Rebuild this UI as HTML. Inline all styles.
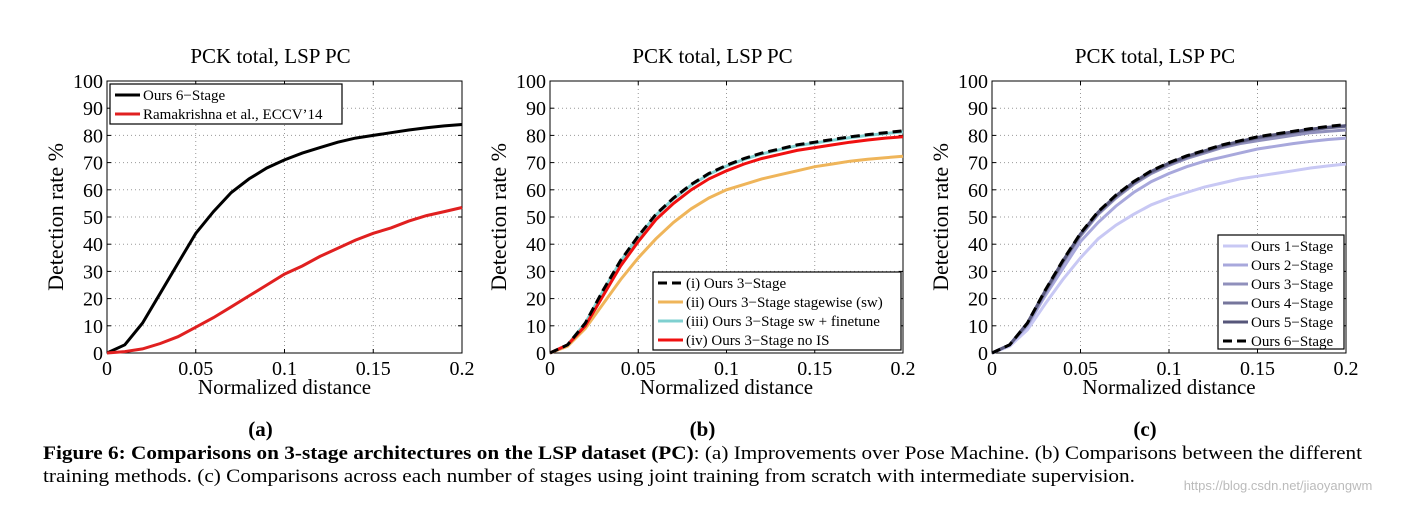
<!DOCTYPE html>
<html><head><meta charset="utf-8"><style>
body{margin:0;background:#fff;}
svg text{font-family:"Liberation Serif",serif;fill:#000;}
</style></head><body>
<svg id="fig" width="1411" height="505" xmlns="http://www.w3.org/2000/svg">
<text x="1278" y="490" font-size="13" style="fill:#bbb;font-family:'Liberation Sans',sans-serif" text-anchor="middle">https://blog.csdn.net/jiaoyangwm</text>
<text x="43" y="459" font-size="19" textLength="1319" lengthAdjust="spacingAndGlyphs"><tspan font-weight="bold">Figure 6: Comparisons on 3-stage architectures on the LSP dataset (PC)</tspan>: (a) Improvements over Pose Machine. (b) Comparisons between the different</text>
<text x="43" y="482" font-size="19" textLength="1092" lengthAdjust="spacingAndGlyphs">training methods. (c) Comparisons across each number of stages using joint training from scratch with intermediate supervision.</text>
</svg>
<script>
const xs=[0,0.01,0.02,0.03,0.04,0.05,0.06,0.07,0.08,0.09,0.1,0.11,0.12,0.13,0.14,0.15,0.16,0.17,0.18,0.19,0.2];
const xTicks=[0,0.05,0.1,0.15,0.2];
const xTickLabels=["0","0.05","0.1","0.15","0.2"];
const yTicks=[0,10,20,30,40,50,60,70,80,90,100];
const aOurs6=[0,3,11,22,33,44,52,59,64,68,71,73.5,75.5,77.5,79,80,81,82,82.8,83.5,84];
const aRama=[0,0.5,1.5,3.5,6,9.5,13,17,21,25,29,32,35.5,38.5,41.5,44,46,48.5,50.5,52,53.5];
const bI=[0,3,11,23,34,43,51,57,62,66,69,71.5,73.5,75,76.5,77.5,78.5,79.5,80.3,81,81.7];
const bII=[0,2.5,9,18,27,35,42,48,53,57,60,62,64,65.5,67,68.5,69.5,70.5,71.2,71.8,72.3];
const bIII=[0,3,11,22.7,33.7,42.7,50.7,56.7,61.7,65.7,68.7,71.2,73.2,74.7,76.2,77.2,78.2,79.2,80,80.7,81.3];
const bIV=[0,3,10,21,32,41,49,55,60,64,67,69.5,71.5,73,74.5,75.5,76.5,77.5,78.3,79,79.5];
const c1=[0,2.5,8.5,18,27,35,42,47,51,54.5,57,59,61,62.5,64,65,66,67,68,68.8,69.5];
const c2=[0,3,10,21,31,41,48,54,59,63,66,68.5,70.5,72,73.5,75,76,77,77.8,78.5,79];
const c3=[0,3,10.5,22,33,43,51,57,62,66,69,71.5,73.5,75.5,77,78,79,80,81,81.5,82];
const c4=[0,3,11,22.5,33.5,43.5,51.5,57.5,62.5,66.5,69.5,72,74,76,77.5,79,80,81,82,82.8,83.3];
const c5=[0,3,11,22.8,33.8,43.8,51.8,57.8,62.8,66.8,69.8,72.3,74.3,76.3,77.8,79.3,80.3,81.3,82.3,83,83.6];
const c6=[0,3,11,23,34,44,52,58,63,67,70,72.5,74.5,76.5,78,79.5,80.5,81.5,82.5,83.3,84];

const NS="http://www.w3.org/2000/svg";
const svg=document.getElementById('fig');
function mk(tag,attrs,parent){const e=document.createElementNS(NS,tag);for(const k in attrs)e.setAttribute(k,attrs[k]);(parent||svg).appendChild(e);return e;}
const Y0=353,Y1=81;
function panel(id,L,R,title,letter,series,legend){
  const g=mk('g',{});
  
  
  const sx=v=>L+(v-0)/(0.2)*(R-L);
  const sy=v=>Y0-v/100*(Y0-Y1);
  xTicks.forEach((t,i)=>{
    if(i>0&&i<xTicks.length-1){const l=mk('line',{x1:sx(t),x2:sx(t),y1:Y1,y2:Y0,stroke:'#999','stroke-width':1,'stroke-dasharray':'1,3'},g);
    
    }
    const tx=mk('text',{x:sx(t),y:Y0+22,'font-size':20,'text-anchor':'middle'},g);tx.textContent=xTickLabels[i];
    
    
    mk('line',{x1:sx(t),x2:sx(t),y1:Y0,y2:Y0-4,stroke:'#000'},g);
    mk('line',{x1:sx(t),x2:sx(t),y1:Y1,y2:Y1+4,stroke:'#000'},g);
  });
  yTicks.forEach(t=>{
    if(t>0&&t<100){const l=mk('line',{x1:L,x2:R,y1:sy(t),y2:sy(t),stroke:'#999','stroke-width':1,'stroke-dasharray':'1,3'},g);
    
    }
    const tx=mk('text',{x:L-4,y:sy(t)+7,'font-size':20,'text-anchor':'end'},g);tx.textContent=t;
    
    
    mk('line',{x1:L,x2:L+4,y1:sy(t),y2:sy(t),stroke:'#000'},g);
    mk('line',{x1:R,x2:R-4,y1:sy(t),y2:sy(t),stroke:'#000'},g);
  });
  const fr=mk('rect',{x:L,y:Y1,width:R-L,height:Y0-Y1,fill:'none',stroke:'#000','stroke-width':1},g);
  
  
  const tt=mk('text',{x:(L+R)/2-14,y:63,'font-size':21,'text-anchor':'middle'},g);tt.textContent=title;
  
  
  const xl=mk('text',{x:(L+R)/2,y:394,'font-size':21,'text-anchor':'middle'},g);xl.textContent='Normalized distance';
  
  
  const yl=mk('text',{x:0,y:0,'font-size':22,'text-anchor':'middle',transform:`translate(${L-44},${(Y0+Y1)/2}) rotate(-90)`},g);yl.textContent='Detection rate %';
  
  
  const lt=mk('text',{x:(L+R)/2-24,y:436,'font-size':21,'font-weight':'bold','text-anchor':'middle'},g);lt.textContent=letter;
  
  
  series.forEach(s=>{
    const d=s.data.map((v,i)=>(i?'L':'M')+sx(xs[i]).toFixed(1)+','+sy(v).toFixed(1)).join('');
    const p=mk('path',{d:d,fill:'none',stroke:s.color,'stroke-width':3,'stroke-dasharray':s.dash||'none'},g);
    
    
  });
  const lg=mk('g',{},g);
  
  
  mk('rect',{x:legend.x,y:legend.y,width:legend.w,height:legend.h,fill:'#fff',stroke:'#000','stroke-width':1.2},lg);
  legend.items.forEach((s,i)=>{
    const yy=legend.y+11+i*legend.step;
    mk('line',{x1:legend.x+5,x2:legend.x+5+legend.ll,y1:yy,y2:yy,stroke:s.color,'stroke-width':3,'stroke-dasharray':s.dash||'none'},lg);
    const t=mk('text',{x:legend.x+8+legend.ll,y:yy+5,'font-size':legend.fs},lg);t.textContent=s.label;
    
    
  });
}
const sa=[{key:'ours-6-stage',data:aOurs6,color:'#000',label:'Ours 6\u2212Stage'},{key:'ramakrishna',data:aRama,color:'#e02020',label:'Ramakrishna et al., ECCV\u201914'}];
panel('a',107,462,'PCK total, LSP PC','(a)',sa,{x:110,y:84,w:232,h:40,step:19,ll:25,fs:15,items:sa});
const sbItems=[{key:'i',data:bI,color:'#000',dash:'9,5',label:'(i) Ours 3\u2212Stage'},{key:'ii',data:bII,color:'#efb55a',label:'(ii) Ours 3\u2212Stage stagewise (sw)'},{key:'iii',data:bIII,color:'#7fd0d0',label:'(iii) Ours 3\u2212Stage sw + finetune'},{key:'iv',data:bIV,color:'#f01010',label:'(iv) Ours 3\u2212Stage no IS'}];
const sbDraw=[sbItems[1],sbItems[2],sbItems[3],sbItems[0]];
panel('b',550,903,'PCK total, LSP PC','(b)',sbDraw,{x:653,y:272,w:248,h:78,step:19,ll:25,fs:15,items:sbItems});
const scItems=[{key:'s1',data:c1,color:'#c8c8f4',label:'Ours 1\u2212Stage'},{key:'s2',data:c2,color:'#a8a8dc',label:'Ours 2\u2212Stage'},{key:'s3',data:c3,color:'#9090bc',label:'Ours 3\u2212Stage'},{key:'s4',data:c4,color:'#76769c',label:'Ours 4\u2212Stage'},{key:'s5',data:c5,color:'#56567a',label:'Ours 5\u2212Stage'},{key:'s6',data:c6,color:'#000',dash:'9,5',label:'Ours 6\u2212Stage'}];
panel('c',992,1346,'PCK total, LSP PC','(c)',scItems,{x:1218,y:235,w:126,h:114,step:19,ll:25,fs:15,items:scItems});
</script>
</body></html>
